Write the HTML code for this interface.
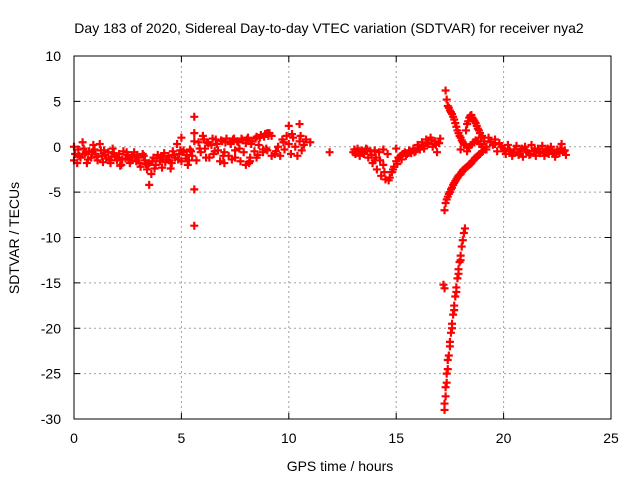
<!DOCTYPE html>
<html><head><meta charset="utf-8"><style>
body{margin:0;background:#fff}
svg{display:block;font-family:"Liberation Sans",sans-serif;font-size:14px}
</style></head><body>
<svg id="chart" width="640" height="480" viewBox="0 0 640 480">
<text x="329" y="33" text-anchor="middle" fill="#000">Day 183 of 2020, Sidereal Day-to-day VTEC variation (SDTVAR) for receiver nya2</text>
<text x="340" y="471" text-anchor="middle">GPS time / hours</text>
<text transform="translate(19,238) rotate(-90)" text-anchor="middle">SDTVAR / TECUs</text>
<g id="grid"></g>
<g id="marks"></g>
<rect x="74" y="56" width="537" height="363" fill="none" stroke="#000" stroke-width="1"/>
</svg>
<script>
const xTicks=[0,5,10,15,20,25];
const yTicks=[10,5,0,-5,-10,-15,-20,-25,-30];
const hours=[0,0,0.2,0.3,0.4,0.5,0.6,0.7,0.8,0.9,1.0,1.1,1.2,1.3,1.4,1.5,1.6,1.7,1.8,1.9,2.0,2.1,2.2,2.3,2.4,2.5,2.6,2.7,2.8,2.9,3.0,3.1,3.2,3.3,3.4,3.5,3.5,3.6,3.7,3.8,3.9,4.0,4.1,4.2,4.3,4.4,4.5,4.6,4.7,4.8,4.9,5.0,5.0,5.1,5.2,5.3,5.4,5.5,5.6,5.6,5.6,5.6,5.6,5.7,
5.8,5.9,6.0,6.1,6.2,6.3,6.4,6.5,6.6,6.7,6.8,6.9,7.0,7.1,7.2,7.3,7.4,7.5,7.6,7.7,7.8,7.9,8.0,8.1,8.2,8.3,8.4,8.5,8.6,8.7,8.8,8.9,9.0,9.1,9.2,7.0,7.5,8.0,8.2,8.5,8.8,9.0,
9.2,9.4,9.5,9.6,9.7,9.8,9.9,10.0,10.0,10.1,10.2,10.3,10.4,10.5,10.5,10.6,10.7,10.8,11.0,11.9,
13.0,13.1,13.2,13.3,13.4,13.5,13.6,13.7,13.8,13.9,14.0,14.1,14.2,14.3,14.4,14.5,14.6,14.7,14.8,14.9,15.0,15.1,15.2,15.3,15.4,15.5,15.6,15.7,15.8,15.9,16.0,16.1,16.2,16.3,16.4,16.5,16.6,16.7,16.8,16.9,17.0,15.0,14.0,14.4,
17.3,17.35,17.4,17.5,17.6,17.7,17.8,17.9,18.0,18.1,18.2,18.0,18.3,18.4,18.5,18.6,18.7,18.8,18.9,19.0,19.2,19.5,19.7,19.9,18.3,18.4,18.5,18.6,18.7,18.8,18.9,19.0,19.3,19.6,19.8,
17.25,17.3,17.4,17.5,17.6,17.7,17.8,17.9,18.0,18.1,18.2,18.3,18.4,18.5,18.6,18.7,18.8,18.9,19.0,19.1,19.2,
17.25,17.3,17.35,17.4,17.45,17.5,17.55,17.6,17.65,17.7,17.75,17.8,17.85,17.9,17.95,18.0,18.05,18.1,18.15,18.2,17.2,17.25,17.25,17.3,17.35,17.4,17.5,17.6,17.7,17.8,17.9,18.0,
20.0,20.1,20.2,20.3,20.4,20.5,20.6,20.7,20.8,20.9,21.0,21.1,21.2,21.3,21.4,21.5,21.6,21.7,21.8,21.9,22.0,22.1,22.2,22.3,22.4,22.5,22.6,22.7,22.8,22.9,
0.05,0.25,0.45,0.65,0.85,1.05,1.25,1.45,1.65,1.85,2.05,2.25,2.45,2.65,2.85,3.05,3.25,3.45,3.65,3.85,4.05,4.25,4.45,4.65,4.85,5.05,5.25,5.45,
0.15,0.55,0.95,1.35,1.75,2.15,2.55,2.95,3.35,3.75,4.15,4.55,4.95,5.35,
5.85,6.05,6.25,6.45,6.65,6.85,7.05,7.25,7.45,7.65,7.85,8.05,8.25,8.45,8.65,8.85,9.05,
6.15,6.55,6.95,7.35,7.75,8.15,8.55,8.95,9.35,9.75,10.15,10.55,
13.05,13.25,13.45,13.65,13.85,14.05,14.25,14.45,14.65,14.85,15.05,15.25,15.45,15.65,15.85,16.05,16.25,16.45,16.65,16.85,17.05,
17.45,17.55,17.65,17.75,17.85,17.95,18.05,18.15,18.25,18.35,18.45,18.55,18.65,18.75,18.85,18.95,19.1,19.4,19.6,
17.35,17.45,17.55,17.65,17.75,17.85,17.95,18.05,18.15,18.25,18.35,18.45,18.55,18.65,18.75,18.85,
20.05,20.25,20.45,20.65,20.85,21.05,21.25,21.45,21.65,21.85,22.05,22.25,22.45,22.65,22.85];
const sdtvar=[-1.5,0.0,-0.3,-1.2,0.5,-0.8,-1.8,-0.5,-1.2,0.2,-0.8,-1.5,0.3,-1.0,-0.4,-1.3,-0.6,-1.8,-0.2,-1.0,-1.5,-0.8,-2.0,-0.5,-1.3,-0.9,-1.8,-1.0,-0.6,-1.6,-1.2,-2.2,-0.8,-1.5,-2.5,-4.2,-1.8,-3.0,-1.2,-2.0,-0.9,-1.6,-2.3,-0.7,-1.4,-1.0,-2.4,-0.5,-1.2,0.3,-0.8,-1.6,1.0,-0.4,-1.3,-2.0,-0.3,-1.0,3.3,-4.7,-8.7,1.5,0.6,-1.5,
0.5,-0.6,1.2,-0.2,0.5,-1.2,0.2,-0.8,0.8,-0.4,-1.6,0.6,-0.6,0.9,-1.0,0.3,0.8,-0.4,0.6,-0.2,0.9,-0.6,0.4,1.0,-1.2,0.6,-0.5,1.1,0.2,1.3,-0.3,1.4,1.5,1.5,1.2,-1.8,-1.2,-2.0,-1.6,-1.2,-0.6,-0.4,
-1.0,-0.5,0.0,-1.0,0.8,-0.3,1.2,0.3,2.3,-0.8,1.0,0.0,-1.0,2.5,0.6,-0.4,0.2,0.8,0.5,-0.6,
-0.6,-0.8,-0.2,-1.0,-0.4,-0.8,-0.2,-1.2,-0.5,-1.8,-0.4,-2.5,-0.6,-3.2,-0.3,-3.6,-0.8,-3.4,-2.8,-2.2,-1.6,-1.2,-1.0,-0.8,-0.6,-0.8,-0.4,-0.7,-0.2,-0.5,0.2,-0.3,0.5,-0.2,0.8,0.3,1.0,0.0,0.6,-0.6,0.4,-0.2,-1.5,-2.0,
6.2,5.2,4.5,4.0,3.6,3.0,2.2,1.5,1.0,0.5,0.2,-0.3,-0.5,0.0,0.2,0.5,0.7,0.6,0.3,0.0,-0.3,0.2,-0.5,0.0,2.5,3.2,3.5,3.0,2.6,2.0,1.5,1.2,1.0,0.8,0.4,
-7.0,-6.2,-5.5,-5.0,-4.5,-4.0,-3.6,-3.2,-3.0,-2.6,-2.4,-2.2,-2.0,-1.8,-1.5,-1.2,-1.0,-0.8,-0.5,-0.3,0.0,
-29.0,-27.5,-26,-24.5,-23,-21.5,-20.5,-19.5,-18.5,-17.5,-16.5,-15.5,-14.5,-13.5,-12.7,-12.0,-11.0,-10.3,-9.5,-9.0,-15.2,-15.6,-28.3,-26.5,-25,-23.5,-22,-20,-18,-16,-14,-12.5,
-0.2,-0.8,0.2,-0.5,-1.0,-0.3,0.1,-0.9,-0.4,-1.1,0.0,-0.6,-0.9,0.2,-0.5,-1.0,-0.2,-0.7,0.1,-1.0,-0.4,-0.8,0.0,-0.6,-1.1,-0.3,-0.7,0.3,-0.5,-0.9,
-0.8,-1.0,-0.2,-1.4,-0.6,-1.1,-0.4,-0.9,-1.5,-0.7,-1.2,-1.4,-0.6,-1.5,-1.2,-1.8,-1.0,-2.0,-1.6,-1.3,-1.1,-1.7,-1.5,-0.9,-1.4,-0.6,-0.9,-0.5,
-1.8,-0.6,-0.3,-1.7,-1.1,-2.1,-1.4,-0.9,-1.9,-2.4,-1.1,-1.8,-0.4,-1.5,
-0.2,0.8,0.4,0.9,0.3,0.7,0.5,0.6,0.9,0.5,0.7,0.8,0.3,0.9,1.0,1.1,1.2,
-1.2,-0.5,-1.0,-1.4,-1.6,-1.8,-0.9,-0.2,-0.8,0.5,1.4,1.2,
-0.3,-0.5,-0.7,-0.3,-0.9,-1.2,-1.5,-2.8,-3.7,-2.5,-1.9,-1.4,-1.0,-0.6,-0.6,-0.1,0.1,0.4,0.7,0.2,0.9,
4.3,3.8,3.3,2.6,1.8,1.2,0.7,0.3,1.8,2.8,3.4,3.2,2.8,2.3,1.8,1.0,0.6,0.5,0.3,
-5.8,-5.2,-4.7,-4.2,-3.8,-3.4,-3.1,-2.8,-2.5,-2.3,-2.1,-1.9,-1.6,-1.3,-1.1,-0.9,
-0.5,-0.3,-0.7,-0.6,-0.2,-0.4,-0.8,-0.3,-0.5,-0.6,-0.2,-0.4,-0.8,-0.2,-0.4];
const NS='http://www.w3.org/2000/svg';
const X0=74,X1=611,Y0=419,Y1=56;
const sx=v=>X0+(v-0)/(25-0)*(X1-X0);
const sy=v=>Y0-(v+30)/(40)*(Y0-Y1);
const grid=document.getElementById('grid'),svg=document.getElementById('chart'),marks=document.getElementById('marks');
function el(t,a,p){const e=document.createElementNS(NS,t);for(const k in a)e.setAttribute(k,a[k]);p.appendChild(e);return e;}
xTicks.forEach(t=>{const x=sx(t);
 if(t>0&&t<25){const g=el('line',{x1:x,x2:x,y1:Y1,y2:Y0,stroke:'#a0a0a0','stroke-dasharray':'2,3'},grid);
 
 }
 el('line',{x1:x,x2:x,y1:Y0,y2:Y0-6,stroke:'#000'},grid);el('line',{x1:x,x2:x,y1:Y1,y2:Y1+6,stroke:'#000'},grid);
 const l=el('text',{x:x,y:443,'text-anchor':'middle'},svg);l.textContent=t;
 
 });
yTicks.forEach(t=>{const y=sy(t);
 if(t<10&&t>-30){const g=el('line',{x1:X0,x2:X1,y1:y,y2:y,stroke:'#a0a0a0','stroke-dasharray':'2,3'},grid);
 
 }
 el('line',{x1:X0,x2:X0+6,y1:y,y2:y,stroke:'#000'},grid);el('line',{x1:X1,x2:X1-6,y1:y,y2:y,stroke:'#000'},grid);
 const l=el('text',{x:61,y:y+5,'text-anchor':'end'},svg);l.textContent=t;
 
 });
let d='';
hours.forEach((h,i)=>{const x=sx(h),y=sy(sdtvar[i]);d+=`M${x-4},${y}h8M${x},${y-4}v8`;});
const p=el('path',{d:d,stroke:'#ff0000','stroke-width':2.2,fill:'none'},marks);


</script>
</body></html>
